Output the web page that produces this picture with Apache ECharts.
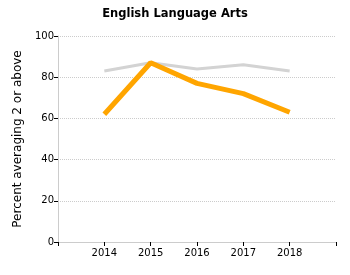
<!DOCTYPE html>
<html>
<head>
<meta charset="utf-8">
<script src="https://cdn.jsdelivr.net/npm/echarts@6/dist/echarts.min.js"></script>
<style>
  html, body { margin: 0; padding: 0; background: #fff; }
  #chart { width: 350px; height: 275px; }
</style>
</head>
<body>
<div id="chart"></div>
<script>
// data
const years = [2014, 2015, 2016, 2017, 2018];
const schoolValues = [62, 87, 77, 72, 63];
const stateValues = [83, 87, 84, 86, 83];

function pairs(vals) {
    return years.map(function (y, i) { return [y, vals[i]]; });
}

const font = 'DejaVu Sans, Verdana, sans-serif';

let myChart = echarts.init(document.getElementById('chart'));
let option = {
    animation: false,
    backgroundColor: '#fff',
    title: {
        text: 'English Language Arts',
        left: 'center',
        top: 3,
        textStyle: { fontFamily: font, fontSize: 11.5, fontWeight: 'bold', color: '#000' }
    },
    grid: { left: 58, right: 14, top: 36, bottom: 33 },
    xAxis: {
        type: 'value',
        min: 2013,
        max: 2019,
        interval: 1,
        axisLine: { lineStyle: { color: '#ccc', width: 1 } },
        axisTick: { show: true, length: 4, lineStyle: { color: '#000' } },
        axisLabel: {
            fontFamily: font, fontSize: 10, color: '#000', margin: 6,
            formatter: function (v) { return (v === 2013 || v === 2019) ? '' : String(v); }
        },
        splitLine: { show: false }
    },
    yAxis: {
        type: 'value',
        min: 0,
        max: 100,
        interval: 20,
        name: 'Percent averaging 2 or above',
        nameLocation: 'middle',
        nameGap: 34,
        nameTextStyle: { fontFamily: font, fontSize: 12, color: '#000' },
        axisLine: { show: true, lineStyle: { color: '#ccc', width: 1 } },
        axisTick: { show: true, length: 4, lineStyle: { color: '#000' } },
        axisLabel: { fontFamily: font, fontSize: 10, color: '#000', margin: 4 },
        splitLine: { show: true, lineStyle: { color: '#ccc', type: 'dotted', width: 1 } }
    },
    series: [{
        type: 'line',
        data: pairs(stateValues),
        symbol: 'none',
        lineStyle: { color: '#d3d3d3', width: 3 },
        z: 2
    }, {
        type: 'line',
        data: pairs(schoolValues),
        symbol: 'none',
        lineStyle: { color: '#ffa500', width: 5 },
        z: 3
    }]
};
myChart.setOption(option);
</script>
</body>
</html>
